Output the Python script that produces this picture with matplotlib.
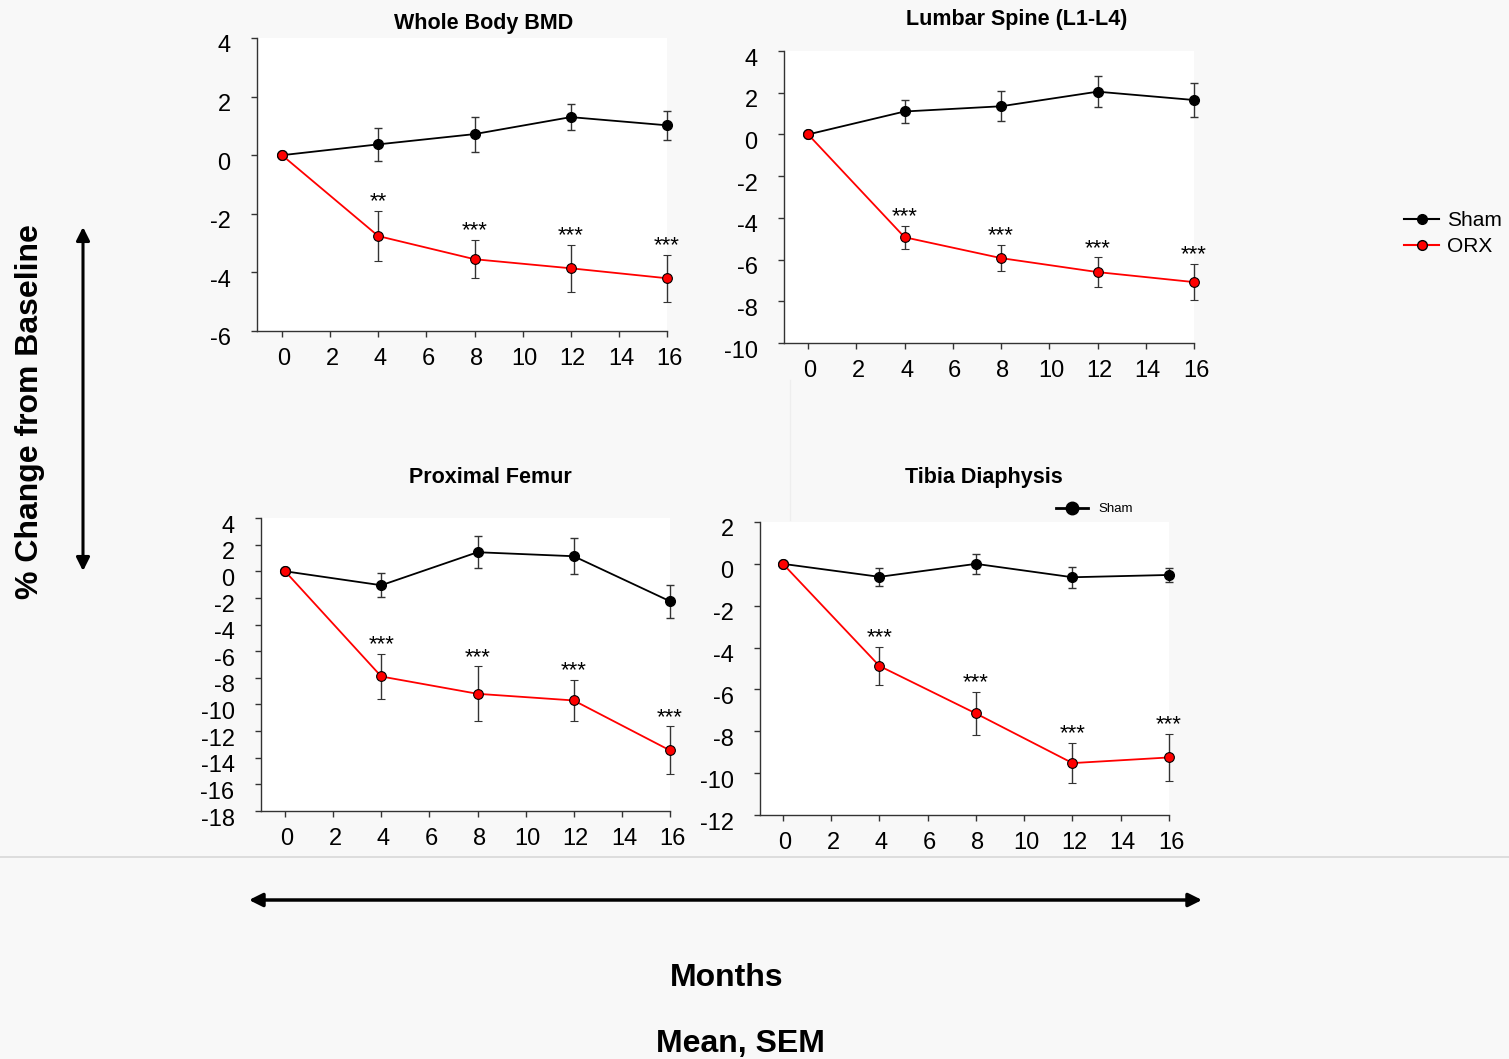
import matplotlib
matplotlib.use("Agg")
import matplotlib.pyplot as plt
import matplotlib.transforms as mtransforms
from matplotlib.lines import Line2D

plt.rcParams['font.family'] = ['Liberation Sans', 'DejaVu Sans']
plt.rcParams['axes.unicode_minus'] = False

months = [0, 4, 8, 12, 16]

# Whole Body BMD
wb_sham = [0, 0.37, 0.72, 1.3, 1.02]
wb_sham_err = [0, 0.56, 0.6, 0.45, 0.5]
wb_orx = [0, -2.76, -3.55, -3.86, -4.2]
wb_orx_err = [0, 0.85, 0.65, 0.8, 0.8]
wb_stars = ['', '**', '***', '***', '***']

# Lumbar Spine
ls_sham = [0, 1.1, 1.35, 2.05, 1.65]
ls_sham_err = [0, 0.55, 0.72, 0.75, 0.8]
ls_orx = [0, -4.93, -5.93, -6.6, -7.08]
ls_orx_err = [0, 0.55, 0.63, 0.7, 0.86]
ls_stars = ['', '***', '***', '***', '***']

# Proximal Femur
pf_sham = [0, -1.05, 1.43, 1.13, -2.25]
pf_sham_err = [0, 0.9, 1.2, 1.35, 1.24]
pf_orx = [0, -7.9, -9.2, -9.7, -13.45]
pf_orx_err = [0, 1.7, 2.05, 1.57, 1.8]
pf_stars = ['', '***', '***', '***', '***']

# Tibia Diaphysis
td_sham = [0, -0.62, 0, -0.64, -0.53]
td_sham_err = [0, 0.42, 0.47, 0.5, 0.32]
td_orx = [0, -4.88, -7.15, -9.52, -9.25]
td_orx_err = [0, 0.92, 1.03, 0.97, 1.13]
td_stars = ['', '***', '***', '***', '***']

W, H = 1509, 1059
fig = plt.figure(figsize=(W / 100, H / 100), dpi=100)
fig.patch.set_facecolor('#f8f8f8')


def px_axes(left, top, right, bottom):
    return fig.add_axes([left / W, 1 - bottom / H, (right - left) / W, (bottom - top) / H])


def panel(ax, sham, sham_err, orx, orx_err, stars, ylim, xleft):
    ax.set_facecolor('white')
    ax.errorbar(months, sham, yerr=sham_err, color='black', lw=1.3, marker='o', ms=7,
                mfc='black', mec='black', ecolor='#333333', elinewidth=1, capsize=3,
                clip_on=False, zorder=3)
    ax.errorbar(months, orx, yerr=orx_err, color='#ff0000', lw=1.3, marker='o', ms=7,
                mfc='#ff0000', mec='black', mew=0.8, ecolor='#333333', elinewidth=1,
                capsize=3, clip_on=False, zorder=4)
    for m, v, e, s in zip(months, orx, orx_err, stars):
        if s:
            ax.annotate(s, (m, v + e), xytext=(0, -1), textcoords='offset points',
                        ha='center', va='bottom', fontsize=16)
    ax.set_xlim(xleft, 16)
    ax.set_ylim(*ylim)
    ax.set_xticks(range(0, 17, 2))
    ax.set_yticks(range(ylim[0], ylim[1] + 1, 2))
    for sp in ['top', 'right']:
        ax.spines[sp].set_visible(False)
    for sp in ['left', 'bottom']:
        ax.spines[sp].set_color('#333333')
        ax.spines[sp].set_linewidth(1)
    ax.tick_params(axis='x', length=4, width=1, color='#333333', labelsize=17, pad=8)
    ax.tick_params(axis='y', length=4, width=1, color='#333333', labelsize=17, pad=15)
    shift = mtransforms.ScaledTranslation(0, -6 / 100, fig.dpi_scale_trans)
    for lab in ax.get_yticklabels():
        lab.set_transform(lab.get_transform() + shift)
    xshift = mtransforms.ScaledTranslation(2 / 100, 0, fig.dpi_scale_trans)
    for lab in ax.get_xticklabels():
        lab.set_transform(lab.get_transform() + xshift)


ax1 = px_axes(257, 38, 667, 331)
panel(ax1, wb_sham, wb_sham_err, wb_orx, wb_orx_err, wb_stars, (-6, 4), -1.04)
ax2 = px_axes(784, 51, 1194, 343)
panel(ax2, ls_sham, ls_sham_err, ls_orx, ls_orx_err, ls_stars, (-10, 4), -1.0)
ax3 = px_axes(261, 518, 670, 811)
panel(ax3, pf_sham, pf_sham_err, pf_orx, pf_orx_err, pf_stars, (-18, 4), -1.0)
ax4 = px_axes(760, 522, 1169, 815)
panel(ax4, td_sham, td_sham_err, td_orx, td_orx_err, td_stars, (-12, 2), -0.95)

titles = [("Whole Body BMD", 484, 24), ("Lumbar Spine (L1-L4)", 1017, 20),
          ("Proximal Femur", 490, 477), ("Tibia Diaphysis", 984, 477)]
for t, x, y in titles:
    fig.text(x / W, 1 - y / H, t, ha='center', va='center', fontsize=15.5, fontweight='bold')

# main legend
h_sham = Line2D([], [], color='black', lw=1.5, marker='o', ms=7, mfc='black', mec='black')
h_orx = Line2D([], [], color='#ff0000', lw=1.5, marker='o', ms=7, mfc='#ff0000', mec='black')
fig.legend([h_sham, h_orx], ['Sham', 'ORX'], loc='upper left',
           bbox_to_anchor=(1404 / W, 1 - 211 / H), frameon=False, fontsize=15,
           handlelength=1.7, handletextpad=0.35, labelspacing=0.35,
           borderpad=0, borderaxespad=0)

# small legend in tibia panel
h_small = Line2D([], [], color='black', lw=2, marker='o', ms=9, mfc='black', mec='black')
fig.legend([h_small], ['Sham'], loc='upper left', bbox_to_anchor=(1056 / W, 1 - 503 / H),
           frameon=False, fontsize=9.5, handlelength=2.4, handletextpad=0.8,
           borderpad=0, borderaxespad=0)

# separators
fig.add_artist(Line2D([0, 1], [1 - 857 / H, 1 - 857 / H], color='#d8d8d8', lw=1.2))
fig.add_artist(Line2D([790 / W, 790 / W], [1 - 380 / H, 1 - 520 / H], color='#eeeeee', lw=1))

# arrows
fig.add_artist(matplotlib.patches.FancyArrowPatch(
    (83 / W, 1 - 227 / H), (83 / W, 1 - 571 / H), transform=fig.transFigure,
    arrowstyle='<|-|>,head_length=8,head_width=4', color='black', lw=2.2,
    shrinkA=0, shrinkB=0))
fig.add_artist(matplotlib.patches.FancyArrowPatch(
    (249 / W, 1 - 900 / H), (1202 / W, 1 - 900 / H), transform=fig.transFigure,
    arrowstyle='<|-|>,head_length=8,head_width=4', color='black', lw=2.5,
    shrinkA=0, shrinkB=0))

fig.text(30 / W, 1 - 412 / H, '% Change from Baseline', rotation=90, ha='center',
         va='center', fontsize=23, fontweight='bold')
fig.text(727 / W, 1 - 978 / H, 'Months', ha='center', va='center', fontsize=23,
         fontweight='bold')
fig.text(740 / W, 1 - 1044 / H, 'Mean, SEM', ha='center', va='center', fontsize=23,
         fontweight='bold')

fig.savefig('out.png', dpi=100, facecolor=fig.get_facecolor())
